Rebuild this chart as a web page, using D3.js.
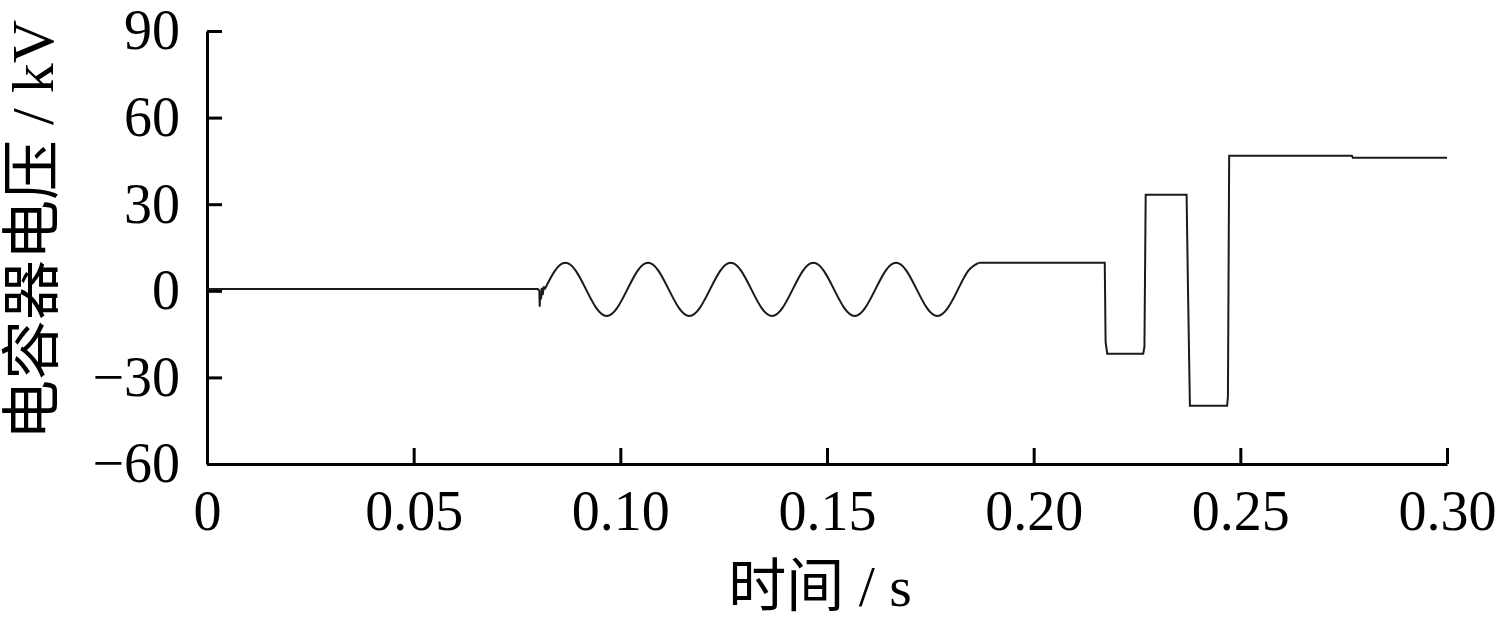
<!DOCTYPE html>
<html><head><meta charset="utf-8">
<script src="https://cdn.jsdelivr.net/npm/d3@7"></script>
<style>body{margin:0;background:#fff;} svg{display:block;}</style>
</head><body>
<svg id="c" width="1505" height="625"></svg>
<script>
// ---- data ----
const xTicks = [0, 0.05, 0.10, 0.15, 0.20, 0.25, 0.30];
const xTickLabels = ["0", "0.05", "0.10", "0.15", "0.20", "0.25", "0.30"];
const yTicks = [-60, -30, 0, 30, 60, 90];
const yTickLabels = ["\u221260", "\u221230", "0", "30", "60", "90"];

// pre-fault segment with switching spike
const preTime = [0, 0.0800, 0.0804, 0.0805, 0.0806, 0.0808, 0.0810, 0.0812, 0.0815, 0.0817];
const preVolt = [0.6, 0.6, 0.2, -5.5, -1.0, -3.0, 1.0, -1.5, 1.5, 0.5];

// oscillation segment
const sineTime = [0.0817, 0.0842, 0.0867, 0.0892, 0.0917, 0.0942, 0.0967, 0.0992,
  0.1017, 0.1042, 0.1067, 0.1092, 0.1117, 0.1142, 0.1167, 0.1192,
  0.1217, 0.1242, 0.1267, 0.1292, 0.1317, 0.1342, 0.1367, 0.1392,
  0.1417, 0.1442, 0.1467, 0.1492, 0.1517, 0.1542, 0.1567, 0.1592,
  0.1617, 0.1642, 0.1667, 0.1692, 0.1717, 0.1742, 0.1767, 0.1792,
  0.1817, 0.1842, 0.1867];
const sineVolt = [0.5, 7.0, 9.7, 7.0, 0.5, -6.0, -8.7, -6.0,
  0.5, 7.0, 9.7, 7.0, 0.5, -6.0, -8.7, -6.0,
  0.5, 7.0, 9.7, 7.0, 0.5, -6.0, -8.7, -6.0,
  0.5, 7.0, 9.7, 7.0, 0.5, -6.0, -8.7, -6.0,
  0.5, 7.0, 9.7, 7.0, 0.5, -6.0, -8.7, -6.0,
  0.5, 7.0, 9.7];

// post segment: steps
const postTime = [0.1867, 0.2172, 0.2174, 0.2178, 0.2265, 0.2268, 0.2271, 0.2370, 0.2373, 0.2378,
  0.2468, 0.2470, 0.2473, 0.2770, 0.2772, 0.3000];
const postVolt = [9.7, 9.7, -17.7, -21.8, -21.8, -19.4, 33.3, 33.3, 3.8, -39.8,
  -39.8, -36.7, 46.8, 46.8, 46.1, 46.1];

// ---- drawing ----
const svg = d3.select("#c");
const L = 207, R = 1447, T = 31, B = 464;
const x = d3.scaleLinear().domain([0, 0.30]).range([L, R]);
const y = d3.scaleLinear().domain([-60, 90]).range([B, T]);
const font = "'Liberation Serif','Times New Roman',serif";
const titleFont = "'Liberation Serif','Noto Sans CJK SC',serif";

const xa = svg.append("g").attr("transform", `translate(0,${B})`)
  .call(d3.axisBottom(x).tickValues(xTicks).tickFormat((d, i) => xTickLabels[i])
    .tickSizeInner(-16).tickSizeOuter(0).tickPadding(26));
const ya = svg.append("g").attr("transform", `translate(${L},0)`)
  .call(d3.axisLeft(y).tickValues(yTicks).tickFormat((d, i) => yTickLabels[i])
    .tickSizeInner(-15).tickSizeOuter(0).tickPadding(27));
[xa, ya].forEach(a => {
  a.selectAll("path.domain").attr("stroke", "#000").attr("stroke-width", 3);
  a.selectAll(".tick line").attr("stroke", "#000").attr("stroke-width", 3);
  a.selectAll("text").attr("font-family", font).attr("font-size", 56).attr("fill", "#000");
});

const line = d3.line().x(d => x(d[0])).y(d => y(d[1]));
const lineSmooth = d3.line().x(d => x(d[0])).y(d => y(d[1])).curve(d3.curveNatural);
const seg = (ts, vs) => ts.map((t, i) => [t, vs[i]]);

svg.append("path").datum(seg(preTime, preVolt)).attr("d", line)
  .attr("fill", "none").attr("stroke", "#1a1a1a").attr("stroke-width", 2);
svg.append("path").datum(seg(sineTime, sineVolt)).attr("d", lineSmooth)
  .attr("fill", "none").attr("stroke", "#1a1a1a").attr("stroke-width", 2);
svg.append("path").datum(seg(postTime, postVolt)).attr("d", line)
  .attr("fill", "none").attr("stroke", "#1a1a1a").attr("stroke-width", 2);

svg.append("text").attr("x", 820).attr("y", 606).attr("text-anchor", "middle")
  .attr("font-family", titleFont).attr("font-size", 58)
  .text("时间 / s");
svg.append("text").attr("transform", "translate(53,230) rotate(-90)").attr("text-anchor", "middle")
  .attr("font-family", titleFont).attr("font-size", 60)
  .text("电容器电压 / kV");
</script>
</body></html>
